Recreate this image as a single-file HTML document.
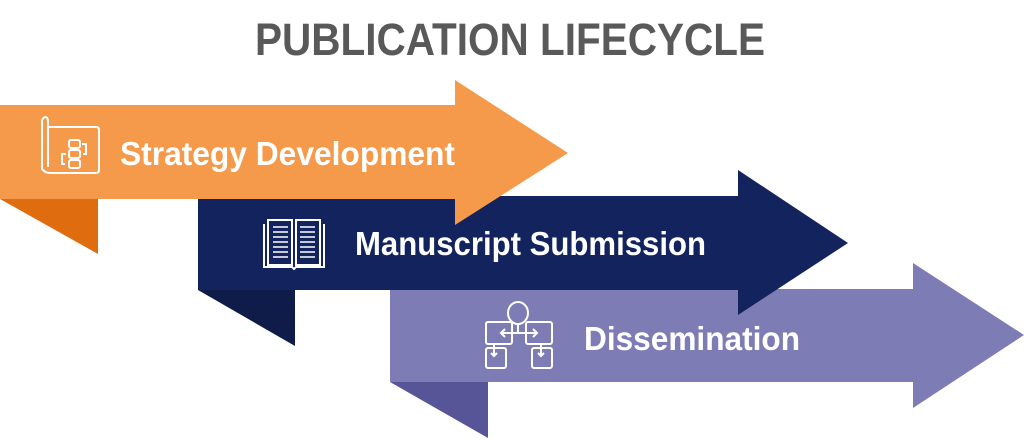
<!DOCTYPE html>
<html><head><meta charset="utf-8"><style>
html,body{margin:0;padding:0;background:#fff;width:1024px;height:440px;overflow:hidden}
svg{display:block}
text{font-family:"Liberation Sans",sans-serif;font-weight:bold}
</style></head><body>
<svg width="1024" height="440" viewBox="0 0 1024 440" xmlns="http://www.w3.org/2000/svg">
<text x="255" y="55" font-size="45" fill="#595959" textLength="510" lengthAdjust="spacingAndGlyphs">PUBLICATION LIFECYCLE</text>
<polygon points="0,199 98,199 98,254" fill="#E06C10"/>
<polygon points="198,290 295,290 295,346" fill="#0F1B48"/>
<polygon points="390,382 488,382 488,438" fill="#575597"/>
<polygon points="390,289 913,289 913,263 1024,335 913,408 913,382 390,382" fill="#7E7CB5"/>
<polygon points="198,196 738,196 738,170 848,243 738,315 738,290 198,290" fill="#12235E"/>
<polygon points="0,105 455,105 455,80 568,153 455,225 455,199 0,199" fill="#F59A4A"/>
<text x="120" y="165" font-size="33" fill="#fff" textLength="335" lengthAdjust="spacingAndGlyphs">Strategy Development</text>
<text x="355" y="255" font-size="33" fill="#fff" textLength="351" lengthAdjust="spacingAndGlyphs">Manuscript Submission</text>
<text x="584" y="350" font-size="33" fill="#fff" textLength="216" lengthAdjust="spacingAndGlyphs">Dissemination</text>
<g fill="none" stroke="#fff" stroke-width="2">
<path d="M42,120 q4,-6 6,0 v47 M42,120 v49 q3,4 8,4 h46 q3,0 3,-3 v-40 q0,-3 -3,-3 h-48"/>
<rect x="69" y="140" width="11" height="8" rx="2"/>
<rect x="69" y="150" width="11" height="8" rx="2"/>
<rect x="69" y="160" width="11" height="8" rx="2"/>
<path d="M82,144 h4 v10 h-3 M66,154 h-4 v10 h3"/>
</g>
<g fill="none" stroke="#fff" stroke-width="2">
<path d="M268,220 h24 v45 h-24 z M296,220 h24 v45 h-24 z"/>
<path d="M264,224 v43 h28 l2,2 l2,-2 h28 v-43"/>
<path d="M273,227 h15 M273,232 h15 M273,237 h15 M273,242 h15 M273,247 h15 M273,252 h15 M273,257 h15 M300,227 h15 M300,232 h15 M300,237 h15 M300,242 h15 M300,247 h15 M300,252 h15 M300,257 h15" stroke-width="1.6"/>
</g>
<g fill="none" stroke="#fff" stroke-width="2">
<ellipse cx="518" cy="313" rx="10" ry="11"/>
<path d="M518,324 v9"/>
<rect x="486" y="322" width="26" height="22" rx="2"/>
<rect x="526" y="322" width="26" height="22" rx="2"/>
<path d="M501,333 h36 M505,329 l-4,4 l4,4 M533,329 l4,4 l-4,4"/>
<rect x="486" y="348" width="20" height="20" rx="2"/>
<rect x="532" y="348" width="20" height="20" rx="2"/>
<path d="M494,344 v12 M491,353 l3,3 l3,-3 M541,344 v12 M538,353 l3,3 l3,-3"/>
</g>
</svg>
</body></html>
